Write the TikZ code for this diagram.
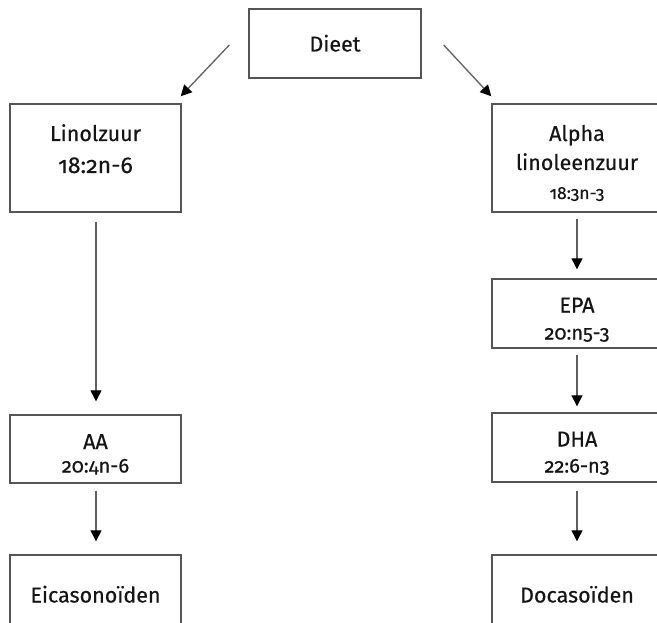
\documentclass[tikz,border=0pt]{standalone}
\usepackage{fontspec}
\setmainfont{Fira Sans}[Numbers=OldStyle, FakeBold=0.4]
\usetikzlibrary{arrows.meta,calc}
\definecolor{boxline}{HTML}{555555}
\definecolor{arrline}{HTML}{606060}
\definecolor{txt}{HTML}{151515}
\tikzset{
  box/.style={draw=boxline, line width=1.4pt, rectangle, inner sep=0pt},
  lbl/.style={anchor=base, inner sep=0pt, text=txt, font=\fontsize{21.5}{24}\selectfont},
  big/.style={lbl, font=\fontsize{23}{26}\selectfont},
  sub/.style={lbl, font=\fontsize{20}{22}\selectfont},
  subsmall/.style={lbl, font=\fontsize{17.5}{20}\selectfont},
  arr/.style={draw=arrline, line width=1.3pt,
    -{Triangle[length=11pt, width=11pt, color=black]}},
}
\begin{document}
\begin{tikzpicture}[x=1pt, y=-1pt]
\useasboundingbox (0,0) rectangle (657,623);
\clip (0,0) rectangle (657,623);
% boxes
\node[box, minimum width=172pt, minimum height=69pt] (dieet) at (335,43.5) {};
\node[box, minimum width=171pt, minimum height=108pt] (lin) at (95.5,158) {};
\node[box, minimum width=170pt, minimum height=108pt] (alpha) at (577,158) {};
\node[box, minimum width=170pt, minimum height=69pt] (epa) at (577,313.5) {};
\node[box, minimum width=171pt, minimum height=68pt] (aa) at (95.5,449) {};
\node[box, minimum width=170pt, minimum height=69pt] (dha) at (577,447.5) {};
\node[box, minimum width=171pt, minimum height=110pt] (eic) at (95.5,610) {};
\node[box, minimum width=170pt, minimum height=110pt] (doc) at (577,610) {};
% texts
\node[lbl] (t-dieet) at (335,51.5) {Dieet};
\node[lbl] (t-lin1) at (95.5,141) {Linolzuur};
\node[big] (t-lin2) at (95.5,173) {18:2n-6};
\node[lbl] (t-alpha1) at (577,141) {Alpha};
\node[lbl] (t-alpha2) at (577,170) {linoleenzuur};
\node[subsmall] (t-alpha3) at (577,199) {18:3n-3};
\node[lbl] (t-epa1) at (577,312.5) {EPA};
\node[sub] (t-epa2) at (577,339.5) {20:n5-3};
\node[lbl] (t-aa1) at (95.5,449) {AA};
\node[sub] (t-aa2) at (95.5,472.5) {20:4n-6};
\node[lbl] (t-dha1) at (577,446.5) {DHA};
\node[sub] (t-dha2) at (577,472.5) {22:6-n3};
\node[lbl] (t-eic) at (95.5,602.5) {Eicasonoïden};
\node[lbl] (t-doc) at (577,602.5) {Docasoïden};
% connectors
\draw[arr] ($(dieet.west)+(-19,1.5)$) -- ($(lin.north east)+(-1,-7)$);
\draw[arr] ($(dieet.east)+(22,1.5)$) -- ($(alpha.north west)+(0,-7)$);
\draw[arr, shorten <=9pt, shorten >=13pt] ([xshift=0.5pt]lin.south) -- ([xshift=0.5pt]aa.north);
\draw[arr, shorten <=7pt, shorten >=13pt] ([xshift=0.5pt]aa.south) -- ([xshift=0.5pt]eic.north);
\draw[arr, shorten <=6pt, shorten >=9pt] (alpha.south) -- (epa.north);
\draw[arr, shorten <=6pt, shorten >=6pt] (epa.south) -- (dha.north);
\draw[arr, shorten <=8pt, shorten >=13pt] (dha.south) -- (doc.north);
\end{tikzpicture}
\end{document}
